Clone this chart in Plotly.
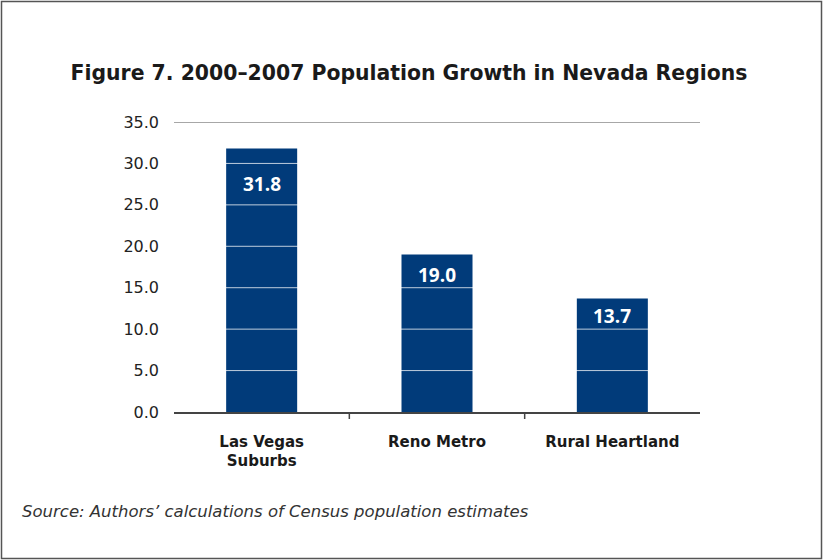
import plotly.graph_objects as go

categories = ["Las Vegas<br>Suburbs", "Reno Metro", "Rural Heartland"]
growth = [31.8, 19.0, 13.7]
label_text = ["31.8", "19.0", "13.7"]
y_ticks = [0, 5, 10, 15, 20, 25, 30, 35]
y_tick_text = ["0.0", "5.0", "10.0", "15.0", "20.0", "25.0", "30.0", "35.0"]
label_offsets = [-20, -5, -3]

W, H = 823, 560
L, R, T, B = 174, 123, 122, 148
pw, ph = W - L - R, H - T - B

BAR = "#013b7a"
FONT = "Open Sans"
WIDE = "DejaVu Sans"

fig = go.Figure()
fig.add_trace(go.Bar(
    x=categories, y=growth, marker=dict(color=BAR, line=dict(width=0)),
    hoverinfo="skip", showlegend=False,
))

for c, v, t, off in zip(categories, growth, label_text, label_offsets):
    fig.add_annotation(x=c, y=v, text="<b>" + t + "</b>", showarrow=False,
                       yanchor="top", yshift=off,
                       font=dict(family=FONT, size=19, color="white"))

shapes = []
for yv in y_ticks[1:-1]:
    shapes.append(dict(type="line", xref="paper", yref="y", x0=0, x1=1, y0=yv, y1=yv,
                       line=dict(color="rgba(255,255,255,0.75)", width=1), layer="above"))
shapes.append(dict(type="line", xref="paper", yref="y", x0=0, x1=1, y0=35, y1=35,
                   line=dict(color="#8a8a8a", width=1.5), layer="above"))
# tick marks between categories (interior boundaries only)
for i in range(len(categories) - 1):
    shapes.append(dict(type="line", xref="x", yref="paper", x0=i + 0.5, x1=i + 0.5,
                       y0=0, y1=-7 / ph,
                       line=dict(color="#444444", width=1.5), layer="above"))
# outer border
shapes.append(dict(type="rect", xref="paper", yref="paper",
                   x0=(1.5 - L) / pw, x1=(821.5 - L) / pw,
                   y0=(T + ph - 558.5) / ph, y1=(T + ph - 1.5) / ph,
                   line=dict(color="#555555", width=1.5), fillcolor="rgba(0,0,0,0)",
                   layer="above"))

fig.update_layout(
    width=W, height=H,
    margin=dict(l=L, r=R, t=T, b=B),
    paper_bgcolor="white", plot_bgcolor="white",
    bargap=0.595,
    shapes=shapes,
    title=dict(text="<b>Figure 7. 2000\u20132007 Population Growth in Nevada Regions</b>",
               x=(409 - L) / pw, xanchor="center", xref="paper",
               y=1 - 73 / H, yanchor="middle", yref="container",
               font=dict(family=WIDE, size=20.4, color="#1a1a1a")),
    font=dict(family=WIDE, color="#222222"),
)

fig.update_xaxes(
    showgrid=False, showline=True, linecolor="#444444", linewidth=1.5,
    ticks="",
    tickfont=dict(family=WIDE, size=15, color="#1a1a1a"),
    ticklabelstandoff=15,
    tickprefix="<b>", ticksuffix="</b>",
)
fig.update_yaxes(
    range=[0, 35], tickvals=y_ticks, ticktext=y_tick_text,
    showgrid=False, showline=False, zeroline=False, ticks="",
    tickfont=dict(family=WIDE, size=16, color="#222222"),
    ticklabelstandoff=14,
)

fig.add_annotation(text="<i>Source: Authors\u2019 calculations of Census population estimates</i>",
                   xref="paper", yref="paper", x=(20 - L) / pw, y=(T + ph - 511) / ph,
                   xanchor="left", yanchor="middle", showarrow=False,
                   font=dict(family=WIDE, size=16.5, color="#333333"))

fig.write_html("out.html")
